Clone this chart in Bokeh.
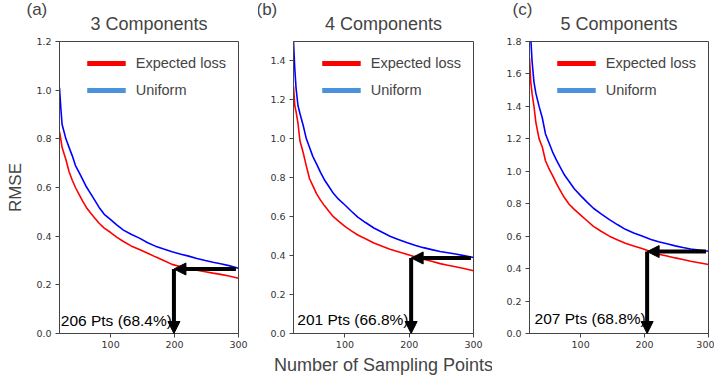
from bokeh.plotting import figure
from bokeh.layouts import row
from bokeh.models import (Range1d, FixedTicker, PrintfTickFormatter, Legend,
                          LegendItem, Label, Arrow, NormalHead, Title)
from bokeh.embed import file_html
from bokeh.resources import INLINE

# ---------------- data ----------------
sample_x = [20, 22, 24, 27, 30, 35, 40, 45, 50, 56, 62, 68, 75, 82, 90, 100,
            110, 120, 132, 145, 158, 170, 183, 196, 210, 222, 235, 248, 260,
            272, 285, 300]

uniform_a = [1.01, 0.93, 0.86, 0.83, 0.80, 0.765, 0.73, 0.69, 0.665, 0.634,
             0.603, 0.578, 0.548, 0.518, 0.49, 0.468, 0.445, 0.425, 0.408,
             0.392, 0.373, 0.359, 0.347, 0.336, 0.326, 0.318, 0.308, 0.30,
             0.293, 0.287, 0.279, 0.268]
expected_a = [0.83, 0.80, 0.765, 0.74, 0.715, 0.665, 0.63, 0.60, 0.575, 0.545,
              0.518, 0.497, 0.475, 0.453, 0.433, 0.415, 0.395, 0.378, 0.36,
              0.345, 0.33, 0.315, 0.30, 0.284, 0.274, 0.266, 0.26, 0.254,
              0.248, 0.243, 0.236, 0.227]

uniform_b = [1.50, 1.36, 1.26, 1.17, 1.13, 1.07, 1.00, 0.955, 0.91, 0.87,
             0.828, 0.79, 0.755, 0.72, 0.69, 0.66, 0.628, 0.598, 0.57, 0.542,
             0.52, 0.50, 0.483, 0.467, 0.452, 0.441, 0.431, 0.421, 0.415,
             0.408, 0.40, 0.39]
expected_b = [1.27, 1.17, 1.14, 1.08, 0.99, 0.93, 0.86, 0.795, 0.76, 0.717,
              0.685, 0.657, 0.628, 0.60, 0.577, 0.55, 0.527, 0.506, 0.487,
              0.465, 0.448, 0.433, 0.42, 0.407, 0.393, 0.382, 0.371, 0.359,
              0.351, 0.343, 0.334, 0.322]

uniform_c = [1.95, 1.82, 1.68, 1.55, 1.48, 1.40, 1.33, 1.23, 1.18, 1.12,
             1.07, 1.025, 0.975, 0.937, 0.892, 0.85, 0.81, 0.772, 0.738,
             0.702, 0.67, 0.642, 0.62, 0.601, 0.58, 0.565, 0.553, 0.54, 0.53,
             0.521, 0.515, 0.507]
expected_c = [1.70, 1.55, 1.48, 1.40, 1.30, 1.20, 1.15, 1.065, 1.02, 0.975,
              0.925, 0.882, 0.835, 0.797, 0.765, 0.73, 0.695, 0.66, 0.63,
              0.60, 0.577, 0.557, 0.54, 0.524, 0.504, 0.489, 0.478, 0.466,
              0.456, 0.445, 0.436, 0.425]

titles = ["3 Components", "4 Components", "5 Components"]
panel_tags = ["(a)", "(b)", "(c)"]
notes = ["206 Pts (68.4%)", "201 Pts (66.8%)", "207 Pts (68.8%)"]
note_x = [22, 26, 28]
note_y = [0.053, 0.07, 0.093]
x_ticks = [100, 200, 300]
y_max = [1.2, 1.5, 1.8]
y_ticks = [[0.0, 0.2, 0.4, 0.6, 0.8, 1.0, 1.2],
           [0.0, 0.2, 0.4, 0.6, 0.8, 1.0, 1.2, 1.4],
           [0.0, 0.2, 0.4, 0.6, 0.8, 1.0, 1.2, 1.4, 1.6, 1.8]]
cross_x = [199, 203, 204]
cross_y = [0.265, 0.388, 0.505]
arrow_from_x = 296
uniforms = [uniform_a, uniform_b, uniform_c]
expecteds = [expected_a, expected_b, expected_c]

# ---------------- layout ----------------
H = 379
TOP = 41
BOTTOM = 46
widths = [258, 234, 222]
b_left = [59, 35, 37]
b_right = [20, 19, 6]
tag_offset = [-33, -37, -17]

SANS = "Liberation Sans"
FRAME = "#444444"

figs = []
for i in range(3):
    p = figure(width=widths[i], height=H, output_backend="svg",
               toolbar_location=None, x_range=Range1d(20, 300),
               y_range=Range1d(0, y_max[i]),
               min_border_left=b_left[i], min_border_right=b_right[i],
               min_border_top=TOP, min_border_bottom=BOTTOM)
    # outer title: panel tag
    p.title.text = panel_tags[i]
    p.title.text_font = SANS
    p.title.text_font_size = "17px"
    p.title.text_font_style = "normal"
    p.title.align = "left"
    p.title.offset = tag_offset[i]
    p.title.standoff = -20
    # inner title: component count
    p.add_layout(Title(text=titles[i], align="center", vertical_align="top",
                       standoff=11, text_font=SANS, text_font_size="18px",
                       text_font_style="normal"), "above")

    p.grid.visible = False
    p.outline_line_color = FRAME
    p.outline_line_alpha = 1
    p.xaxis.ticker = FixedTicker(ticks=x_ticks)
    p.yaxis.ticker = FixedTicker(ticks=y_ticks[i])
    p.yaxis.formatter = PrintfTickFormatter(format="%.1f")
    p.axis.major_tick_out = 4
    p.axis.major_tick_in = 0
    p.axis.minor_tick_line_color = None
    p.axis.axis_line_color = FRAME
    p.axis.major_tick_line_color = FRAME
    p.axis.major_label_text_font = "DejaVu Sans"
    p.axis.major_label_text_font_size = "9.5px"
    p.axis.major_label_text_color = "#333333"
    p.xaxis.major_label_standoff = 3
    p.yaxis.major_label_standoff = 4

    p.line(sample_x, uniforms[i], line_color="#0000ff", line_width=1.6)
    p.line(sample_x, expecteds[i], line_color="#ff0000", line_width=1.6)

    # legend swatches (styled like the reference legend)
    r1 = p.line([-100, -90], [-1, -1], line_color="#ff0000", line_width=5)
    r2 = p.line([-100, -90], [-1, -1], line_color="#4c92db", line_width=5)
    legend = Legend(items=[LegendItem(label="Expected loss", renderers=[r1]),
                           LegendItem(label="Uniform", renderers=[r2])],
                    location="top_right", label_text_font=SANS,
                    label_text_font_size="14.5px", glyph_width=39,
                    glyph_height=20, label_height=20, label_standoff=10,
                    spacing=7, padding=10, margin=2, border_line_alpha=0,
                    background_fill_color="white", background_fill_alpha=1)
    p.add_layout(legend)

    # arrows
    p.add_layout(Arrow(end=NormalHead(size=12, fill_color="black",
                                      line_color="black"),
                       x_start=arrow_from_x, y_start=cross_y[i],
                       x_end=cross_x[i], y_end=cross_y[i],
                       line_width=4, line_color="black"))
    p.add_layout(Arrow(end=NormalHead(size=12, fill_color="black",
                                      line_color="black"),
                       x_start=cross_x[i], y_start=cross_y[i],
                       x_end=cross_x[i], y_end=0,
                       line_width=4, line_color="black"))

    p.add_layout(Label(x=note_x[i], y=note_y[i], text=notes[i],
                       text_font=SANS, text_font_size="15.5px",
                       text_baseline="alphabetic", text_color="black"))
    figs.append(p)

figs[0].yaxis.axis_label = "RMSE"
figs[0].yaxis.axis_label_text_font = SANS
figs[0].yaxis.axis_label_text_font_size = "17px"
figs[0].yaxis.axis_label_text_font_style = "normal"
figs[0].yaxis.axis_label_standoff = 8

figs[1].xaxis.axis_label = "Number of Sampling Points"
figs[1].xaxis.axis_label_text_font = SANS
figs[1].xaxis.axis_label_text_font_size = "18px"
figs[1].xaxis.axis_label_text_font_style = "normal"
figs[1].xaxis.axis_label_standoff = 4

layout = row(*figs)
open("out.html", "w").write(file_html(layout, INLINE))
